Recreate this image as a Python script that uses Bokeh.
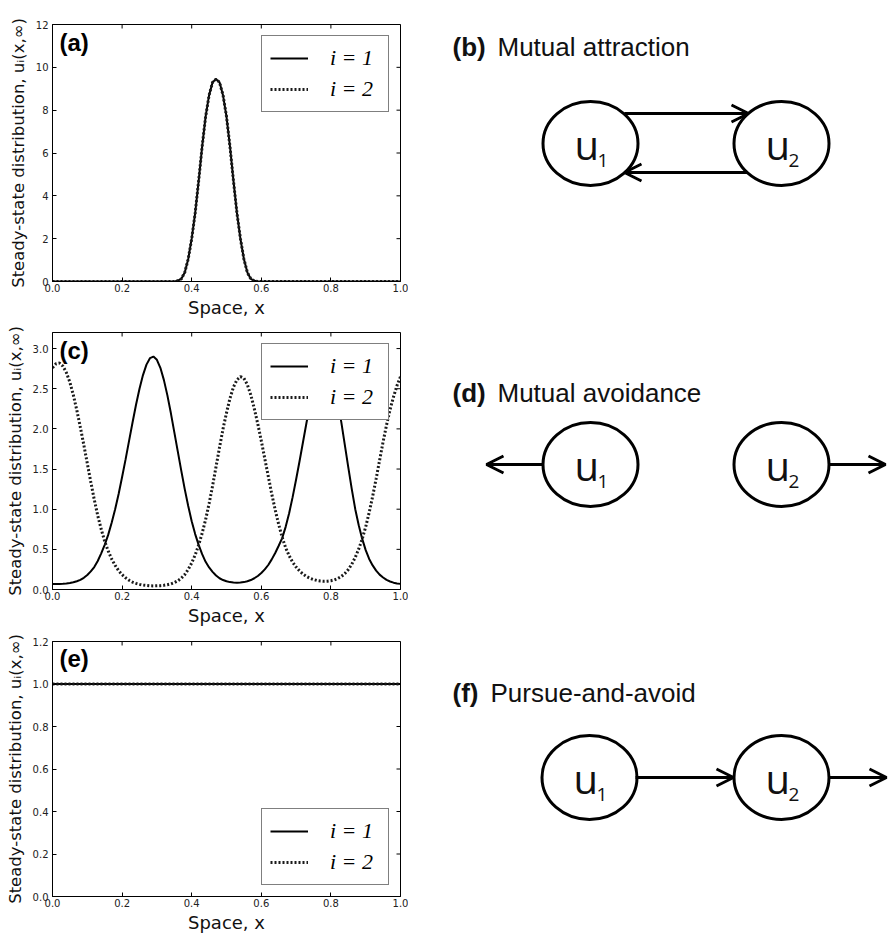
from bokeh.plotting import figure
from bokeh.models import (Range1d, FixedTicker, Legend, LegendItem, Label,
                          Arrow, OpenHead, ColumnDataSource, PrintfTickFormatter)
from bokeh.layouts import row, column
from bokeh.embed import file_html
from bokeh.resources import INLINE
from bokeh.core.properties import value

# ---------------- data ----------------
# (a) mutual attraction: both species aggregate at the same place
x_a = [0.0, 0.30, 0.35, 0.36, 0.37, 0.38, 0.39, 0.40, 0.41, 0.42, 0.43, 0.44, 0.45, 0.46,
       0.47, 0.48, 0.49, 0.50, 0.51, 0.52, 0.53, 0.54, 0.55, 0.56, 0.57, 0.58, 0.59, 0.64, 1.0]
u1_a = [0.0, 0.0, 0.0, 0.04, 0.12, 0.42, 1.05, 2.0, 3.2, 4.7, 6.3, 7.7, 8.7, 9.3,
        9.45, 9.3, 8.7, 7.7, 6.3, 4.7, 3.2, 2.0, 1.05, 0.42, 0.12, 0.03, 0.0, 0.0, 0.0]
u2_a = [0.0, 0.0, 0.0, 0.04, 0.12, 0.42, 1.05, 2.0, 3.2, 4.7, 6.3, 7.7, 8.7, 9.3,
        9.45, 9.3, 8.7, 7.7, 6.3, 4.7, 3.2, 2.0, 1.05, 0.42, 0.12, 0.03, 0.0, 0.0, 0.0]

# (c) mutual avoidance: segregated peaks (sampled every 0.01 in x)
x_c = [round(0.01 * k, 2) for k in range(101)]
u1_c = [0.070, 0.070, 0.070, 0.072, 0.075, 0.082, 0.090, 0.103, 0.120, 0.146,
        0.180, 0.225, 0.280, 0.355, 0.450, 0.555, 0.680, 0.830, 1.000, 1.190,
        1.400, 1.620, 1.850, 2.080, 2.300, 2.500, 2.670, 2.800, 2.880, 2.900,
        2.860, 2.760, 2.610, 2.420, 2.200, 1.960, 1.720, 1.480, 1.250, 1.040,
        0.850, 0.690, 0.555, 0.440, 0.345, 0.275, 0.220, 0.175, 0.140, 0.118,
        0.102, 0.092, 0.086, 0.084, 0.086, 0.092, 0.102, 0.118, 0.140, 0.168,
        0.205, 0.250, 0.305, 0.375, 0.455, 0.545, 0.640, 0.780, 0.950, 1.150,
        1.370, 1.600, 1.840, 2.080, 2.300, 2.500, 2.670, 2.830, 2.880, 2.850,
        2.750, 2.580, 2.350, 2.080, 1.800, 1.520, 1.250, 1.000, 0.800, 0.630,
        0.490, 0.380, 0.300, 0.235, 0.185, 0.150, 0.120, 0.100, 0.085, 0.075,
        0.070]
u2_c = [2.76, 2.81, 2.82, 2.78, 2.70, 2.58, 2.42, 2.23, 2.02, 1.80,
        1.57, 1.34, 1.12, 0.92, 0.75, 0.60, 0.48, 0.38, 0.30, 0.235,
        0.185, 0.145, 0.115, 0.092, 0.076, 0.064, 0.055, 0.050, 0.046, 0.045,
        0.046, 0.048, 0.052, 0.060, 0.070, 0.086, 0.108, 0.140, 0.185, 0.250,
        0.330, 0.430, 0.555, 0.700, 0.870, 1.070, 1.290, 1.530, 1.770, 2.000,
        2.200, 2.380, 2.520, 2.610, 2.650, 2.630, 2.550, 2.420, 2.250, 2.060,
        1.850, 1.630, 1.410, 1.190, 0.990, 0.810, 0.650, 0.520, 0.420, 0.340,
        0.280, 0.230, 0.192, 0.162, 0.140, 0.124, 0.112, 0.105, 0.102, 0.104,
        0.110, 0.120, 0.137, 0.162, 0.198, 0.248, 0.315, 0.400, 0.505, 0.630,
        0.780, 0.960, 1.160, 1.380, 1.610, 1.840, 2.050, 2.240, 2.400, 2.540,
        2.650]

# (e) pursue-and-avoid: uniform state
x_e = [0.0, 0.5, 1.0]
u1_e = [1.0, 1.0, 1.0]
u2_e = [1.0, 1.0, 1.0]

x_ticks = [0.0, 0.2, 0.4, 0.6, 0.8, 1.0]
y_ticks_a = [0, 2, 4, 6, 8, 10, 12]
y_ticks_c = [0.0, 0.5, 1.0, 1.5, 2.0, 2.5, 3.0]
y_ticks_e = [0.0, 0.2, 0.4, 0.6, 0.8, 1.0, 1.2]
legend_labels = ["i = 1", "i = 2"]
panel_labels = ["(a)", "(c)", "(e)"]
x_label = "Space, x"
y_label = "Steady-state distribution, u\u1d62(x,\u221e)"

diagram_tags = ["(b)", "(d)", "(f)"]
diagram_names = ["Mutual attraction", "Mutual avoidance", "Pursue-and-avoid"]
node_names = ["u", "u", "u", "u", "u", "u"]
node_subs = ["1", "2", "1", "2", "1", "2"]

TICK_FONT = "DejaVu Sans"
FW = 348


def make_panel(x, u1, u2, ymax, yticks, yfmt, tag, legend_loc, top, fh, bottom):
    p = figure(width=52 + FW + 8, height=top + fh + bottom,
               x_range=Range1d(0, 1), y_range=Range1d(0, ymax),
               output_backend="svg", toolbar_location=None,
               min_border_left=52, min_border_right=8,
               min_border_top=top, min_border_bottom=bottom)
    p.xgrid.visible = False
    p.ygrid.visible = False
    p.outline_line_color = "black"
    p.outline_line_width = 1
    p.background_fill_color = "white"

    p.xaxis.ticker = FixedTicker(ticks=x_ticks)
    p.yaxis.ticker = FixedTicker(ticks=yticks)
    p.xaxis.formatter = PrintfTickFormatter(format="%.1f")
    p.yaxis.formatter = PrintfTickFormatter(format=yfmt)
    for ax in (p.xaxis[0], p.yaxis[0]):
        ax.major_tick_in = 4
        ax.major_tick_out = 0
        ax.minor_tick_line_color = None
        ax.axis_line_color = "black"
        ax.major_tick_line_color = "black"
        ax.major_label_text_font = TICK_FONT
        ax.major_label_text_font_size = "10px"
        ax.major_label_text_color = "#222222"
        ax.axis_label_text_font = TICK_FONT
        ax.axis_label_text_font_style = "normal"
        ax.axis_label_text_color = "#111111"
    p.xaxis.axis_label_text_font_size = "18px"
    p.yaxis.axis_label_text_font_size = "16.5px"
    p.xaxis.major_label_standoff = 2
    p.xaxis.axis_label_standoff = 2
    p.yaxis.major_label_standoff = 4
    p.yaxis.axis_label_standoff = 5
    p.xaxis.axis_label = x_label
    p.yaxis.axis_label = y_label

    # inward ticks on the top and right edges of the frame (matplotlib style)
    ty = ymax * 4.0 / fh
    tx = 4.0 / FW
    p.segment(x0=x_ticks, y0=[ymax] * len(x_ticks), x1=x_ticks,
              y1=[ymax - ty] * len(x_ticks), line_color="black", line_width=1)
    p.segment(x0=[1.0] * len(yticks), y0=yticks, x1=[1.0 - tx] * len(yticks),
              y1=yticks, line_color="black", line_width=1)

    r1 = p.line(x, u1, line_color="black", line_width=2)
    r2 = p.line(x, u2, line_color="#1a1a1a", line_width=3, line_dash="2 2")

    legend = Legend(items=[LegendItem(label=legend_labels[0], renderers=[r1]),
                           LegendItem(label=legend_labels[1], renderers=[r2])],
                    location=legend_loc, margin=11, padding=8, spacing=3,
                    glyph_width=38, glyph_height=28, label_height=28, label_width=50,
                    label_standoff=22,
                    label_text_font="Liberation Serif", label_text_font_style="italic",
                    label_text_font_size="22px", label_text_color="black",
                    border_line_color="black", border_line_width=1,
                    background_fill_color="white", background_fill_alpha=1.0)
    p.add_layout(legend)

    p.add_layout(Label(x=0.02, y=ymax * (1 - 4.0 / fh), text=tag, text_baseline="top",
                       text_font="Liberation Sans", text_font_style="bold",
                       text_font_size="24px", text_color="black"))
    return p


fa = make_panel(x_a, u1_a, u2_a, 12, y_ticks_a, "%d", panel_labels[0], "top_right", 24, 257, 39)
fc = make_panel(x_c, u1_c, u2_c, 3.2, y_ticks_c, "%.1f", panel_labels[1], "top_right", 12, 257, 39)
fe = make_panel(x_e, u1_e, u2_e, 1.2, y_ticks_e, "%.1f", panel_labels[2], "bottom_right", 13, 256, 38)

# ---------------- diagrams ----------------
d = figure(width=481, height=935, x_range=Range1d(408, 889), y_range=Range1d(935, 0),
           output_backend="svg", toolbar_location=None, min_border=0,
           x_axis_type=None, y_axis_type=None)
d.grid.visible = False
d.outline_line_color = None

node_x = [590, 781, 590, 781, 589, 781]
node_y = [143, 143, 464, 464, 777, 777]
d.ellipse(x=node_x, y=node_y, width=95, height=84, fill_alpha=0,
          line_color="black", line_width=3)
d.text(x=[v - 16 for v in node_x], y=[v + 1 for v in node_y], text=node_names,
       text_font=value("Open Sans"), text_font_size="40px", text_color="#111111",
       text_baseline="middle", text_align="left")
d.text(x=[v + 7 for v in node_x], y=[v + 17 for v in node_y], text=node_subs,
       text_font=value("Open Sans"), text_font_size="19px", text_color="#111111",
       text_baseline="middle", text_align="left")

title_y = [46, 392, 692]
d.text(x=[452] * 3, y=title_y, text=diagram_tags, text_font=value("Liberation Sans"),
       text_font_style="bold", text_font_size="26px", text_color="#111111",
       text_baseline="middle")
d.text(x=[497, 497, 490], y=title_y, text=diagram_names, text_font=value("Liberation Sans"),
       text_font_size="26px", text_color="#111111", text_baseline="middle")

arrows = ColumnDataSource(dict(
    x0=[624, 747, 542, 828, 635, 829],
    y0=[113, 172, 464, 464, 777, 777],
    x1=[748, 624, 486, 885, 733, 886],
    y1=[113, 172, 464, 464, 777, 777]))
d.add_layout(Arrow(source=arrows, x_start="x0", y_start="y0", x_end="x1", y_end="y1",
                   line_width=3, line_color="black",
                   end=OpenHead(size=17, line_width=3, line_color="black")))

layout = row(column(fa, fc, fe), d)
open("out.html", "w").write(file_html(layout, INLINE))
